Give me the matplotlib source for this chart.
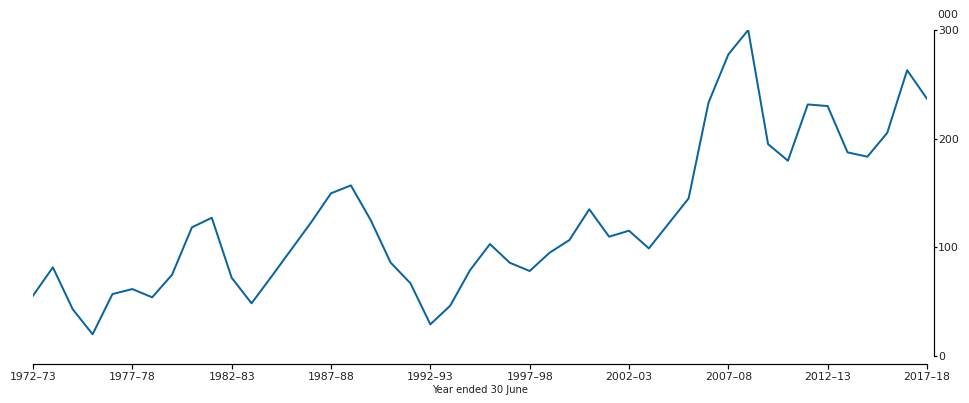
import matplotlib
matplotlib.use("Agg")
import matplotlib.pyplot as plt

# Year ended 30 June, 1972-73 .. 2017-18
years = [f"{y}\u2013{str(y + 1)[-2:]}" for y in range(1972, 2018)]
values = [55.5, 81.6, 43, 20, 57, 61.6, 54, 74.8, 118.4, 127.2,
          72, 48.5, 73, 98, 123, 149.7, 157, 125, 86, 66.9,
          29.1, 46.3, 79, 103, 85.8, 78.2, 95, 106.7, 135, 109.8,
          115.3, 99, 122, 145, 233, 277.5, 300, 195, 179.7, 231.5,
          230, 187.4, 183.4, 205.4, 263, 236.7]
tick_labels = years[::5]
y_ticks = [0, 100, 200, 300]

plt.rcParams['font.family'] = ['DejaVu Sans']
W, H = 969, 403
px = 72 / 100  # one pixel in points
fig = plt.figure(figsize=(W / 100, H / 100), dpi=100)
ax = fig.add_axes([33 / W, 1 - 356 / H, (927 - 33) / W, (356 - 30) / H])

x = list(range(len(values)))
ax.plot(x, values, color='#0a64a0', linewidth=2 * px)

ax.set_xlim(0, len(values) - 1)
ax.set_ylim(0, 300)

ax.spines['top'].set_visible(False)
ax.spines['left'].set_visible(False)
ax.spines['bottom'].set_position(('outward', 8 * px))
ax.spines['right'].set_position(('outward', 7 * px))
for s in ('bottom', 'right'):
    ax.spines[s].set_linewidth(1.2 * px)

ax.set_xticks(x[::5])
ax.set_xticklabels(tick_labels, fontsize=7.8, color='#222222')
ax.tick_params(axis='x', length=5 * px, width=1.2 * px, pad=3 * px)

ax.yaxis.tick_right()
ax.set_yticks(y_ticks)
ax.set_yticklabels([str(v) for v in y_ticks], fontsize=7.8, color='#222222')
ax.tick_params(axis='y', length=3 * px, width=1.2 * px, pad=1 * px)

ax.set_xlabel("Year ended 30 June", fontsize=7.2, color='#222222', labelpad=2)
fig.text(937 / W, 1 - 15 / H, "000", fontsize=7.8, color='#222222',
         ha='left', va='center')

fig.savefig("out.png", dpi=100)
